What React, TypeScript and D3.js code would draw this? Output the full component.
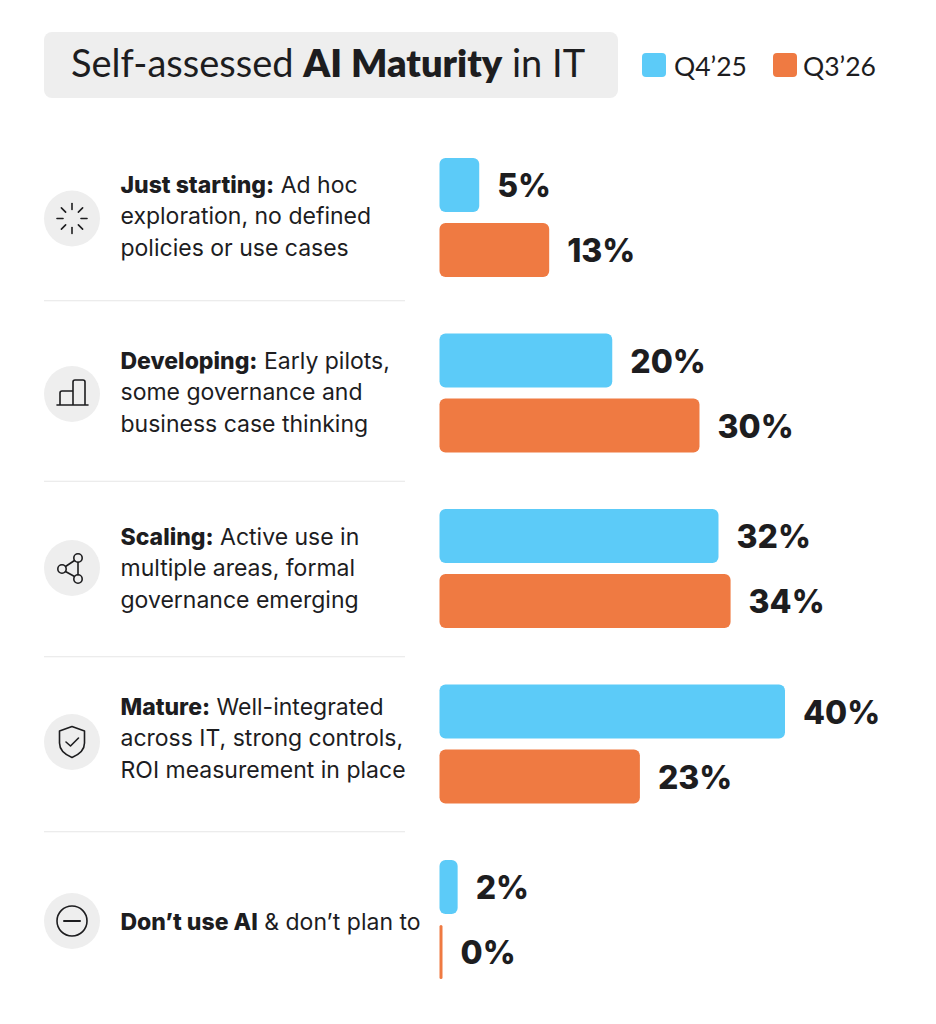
import React from 'react';
import * as d3 from 'd3';

const categories = ['Just starting', 'Developing', 'Scaling', 'Mature', 'None'];
const seriesNames = ["Q4\u201925", "Q3\u201926"];
// bar lengths as measured; the printed labels are these rounded
const q425 = [4.6, 20, 32.3, 40, 2.1];
const q326 = [12.7, 30.1, 33.7, 23.2, 0];
const boldLabels = ['Just starting:', 'Developing:', 'Scaling:', 'Mature:', 'Don\u2019t use AI'];
const firstLines = [' Ad hoc', ' Early pilots,', ' Active use in', ' Well-integrated', ' & don\u2019t plan to'];
const moreLines = [
  ['exploration, no defined', 'policies or use cases'],
  ['some governance and', 'business case thinking'],
  ['multiple areas, formal', 'governance emerging'],
  ['across IT, strong controls,', 'ROI measurement in place'],
  [] as string[],
];

const WIDTH = 936;
const HEIGHT = 1024;
const INK = '#1d1d1f';
const BLUE = '#5ccbf8';
const ORANGE = '#ef7a42';
const GREY = '#eeeeee';
const FONT = 'Inter, "Noto Sans", sans-serif';
const TITLE_FONT = 'Lato, "Noto Sans", sans-serif';
const PCT_FONT = 'Inter, Lato, sans-serif';

const colors = d3.scaleOrdinal<string, string>().domain(seriesNames).range([BLUE, ORANGE]);
const x = d3.scaleLinear().domain([0, 40]).range([439.5, 785]);
const y = d3.scaleBand().domain(categories).range([158 - 28.25, 158 - 28.25 + 175.5 * 5]);
const inner = d3.scaleBand().domain(seriesNames).range([0, 119]).paddingInner(11 / 65);
const pct = d3.format('.0f');

// nudges for the left hand column, relative to the row middle
const textOffset = [-25, -24.5, -24, -29.5, 10];
const iconOffset = [1, 1, -0.5, -2, 1.5];
const dividerOffset = [-4, 1, 1, 0.5];

const Icon = ({ i }: { i: number }) => {
  const common = { fill: 'none', stroke: INK, strokeWidth: 1.6, strokeLinecap: 'round' as const, strokeLinejoin: 'round' as const };
  if (i === 0) {
    return (
      <g {...common}>
        {d3.range(8).map((k) => {
          const a = (k * Math.PI) / 4;
          return <line key={k} x1={Math.cos(a) * 9} y1={Math.sin(a) * 9} x2={Math.cos(a) * 15} y2={Math.sin(a) * 15} />;
        })}
      </g>
    );
  }
  if (i === 1) {
    return (
      <g {...common}>
        <path d="M-15 11H16M-12 11V-1a2 2 0 0 1 2-2H1V11M1 -3V-12a2 2 0 0 1 2-2H11a2 2 0 0 1 2 2V11" />
      </g>
    );
  }
  if (i === 2) {
    return (
      <g {...common}>
        <circle cx={-10} cy={1} r={4.2} />
        <circle cx={6} cy={-10} r={4.2} />
        <circle cx={6} cy={11} r={4.2} />
        <path d="M-6.5 -1.5L2.5 -7.5M-6.5 3.5L2.5 8.5M6 -5.8V6.8" />
      </g>
    );
  }
  if (i === 3) {
    return (
      <g {...common}>
        <path d="M0 -15.5L12.5 -11V1C12.5 8 6 13 0 15.5C-6 13 -12.5 8 -12.5 1V-11Z" />
        <path d="M-6 0L-1.5 4L6.5 -4" />
      </g>
    );
  }
  return (
    <g {...common}>
      <circle r={15} />
      <path d="M-8 0H8" strokeWidth={2} />
    </g>
  );
};

export default function App() {
  const rowMid = (i: number) => (y(categories[i]) as number) + y.bandwidth() / 2;
  return (
    <svg width={WIDTH} height={HEIGHT} style={{ position: 'absolute', left: 0, top: 0, background: '#fff' }}>
      <rect x={44} y={32} width={574} height={66} rx={8} fill={GREY} />
      <text x={71} y={77} fontFamily={TITLE_FONT} fontSize={38} fill={INK}>
        Self-assessed <tspan fontWeight={800}>AI Maturity</tspan> in IT
      </text>

      {seriesNames.map((s, i) => (
        <g key={s} transform={`translate(${i === 0 ? 642 : 773},0)`}>
          <rect y={53} width={24} height={24} rx={4} fill={colors(s)} />
          <text x={i === 0 ? 32 : 30} y={76} fontFamily={TITLE_FONT} fontSize={26.5} fill={INK}>{s}</text>
        </g>
      ))}

      {categories.slice(0, -1).map((c, i) => (
        <line
          key={c}
          x1={44}
          x2={405}
          y1={(y(c) as number) + y.step() + dividerOffset[i] - 0.5}
          y2={(y(c) as number) + y.step() + dividerOffset[i] - 0.5}
          stroke="#e6e6e6"
        />
      ))}

      {categories.map((c, i) => (
        <g key={c}>
          <g transform={`translate(72,${rowMid(i) + iconOffset[i]})`}>
            <circle r={28} fill={GREY} />
            <Icon i={i} />
          </g>
          <text fontFamily={FONT} fontSize={23} fill={INK} xmlSpace="preserve">
            <tspan x={120.5} y={rowMid(i) + textOffset[i]} fontWeight={800}>{boldLabels[i]}</tspan>
            <tspan>{firstLines[i]}</tspan>
            {moreLines[i].map((line, k) => (
              <tspan key={line} x={120.5} y={rowMid(i) + textOffset[i] + 31.5 * (k + 1)}>{line}</tspan>
            ))}
          </text>
          {seriesNames.map((s, j) => {
            const v = (j === 0 ? q425 : q326)[i];
            const w = Math.max(x(v) - x(0), 3);
            const top = rowMid(i) - 59.5 + (inner(s) as number);
            return (
              <g key={s}>
                <rect x={x(0)} y={top} width={w} height={inner.bandwidth()} rx={Math.min(6, w / 2)} fill={colors(s)} />
                <text x={x(0) + w + 18} y={top + inner.bandwidth() / 2 + 12} fontFamily={PCT_FONT} fontWeight={800} fontSize={32} fill={INK}>
                  {pct(v)}%
                </text>
              </g>
            );
          })}
        </g>
      ))}
    </svg>
  );
}
